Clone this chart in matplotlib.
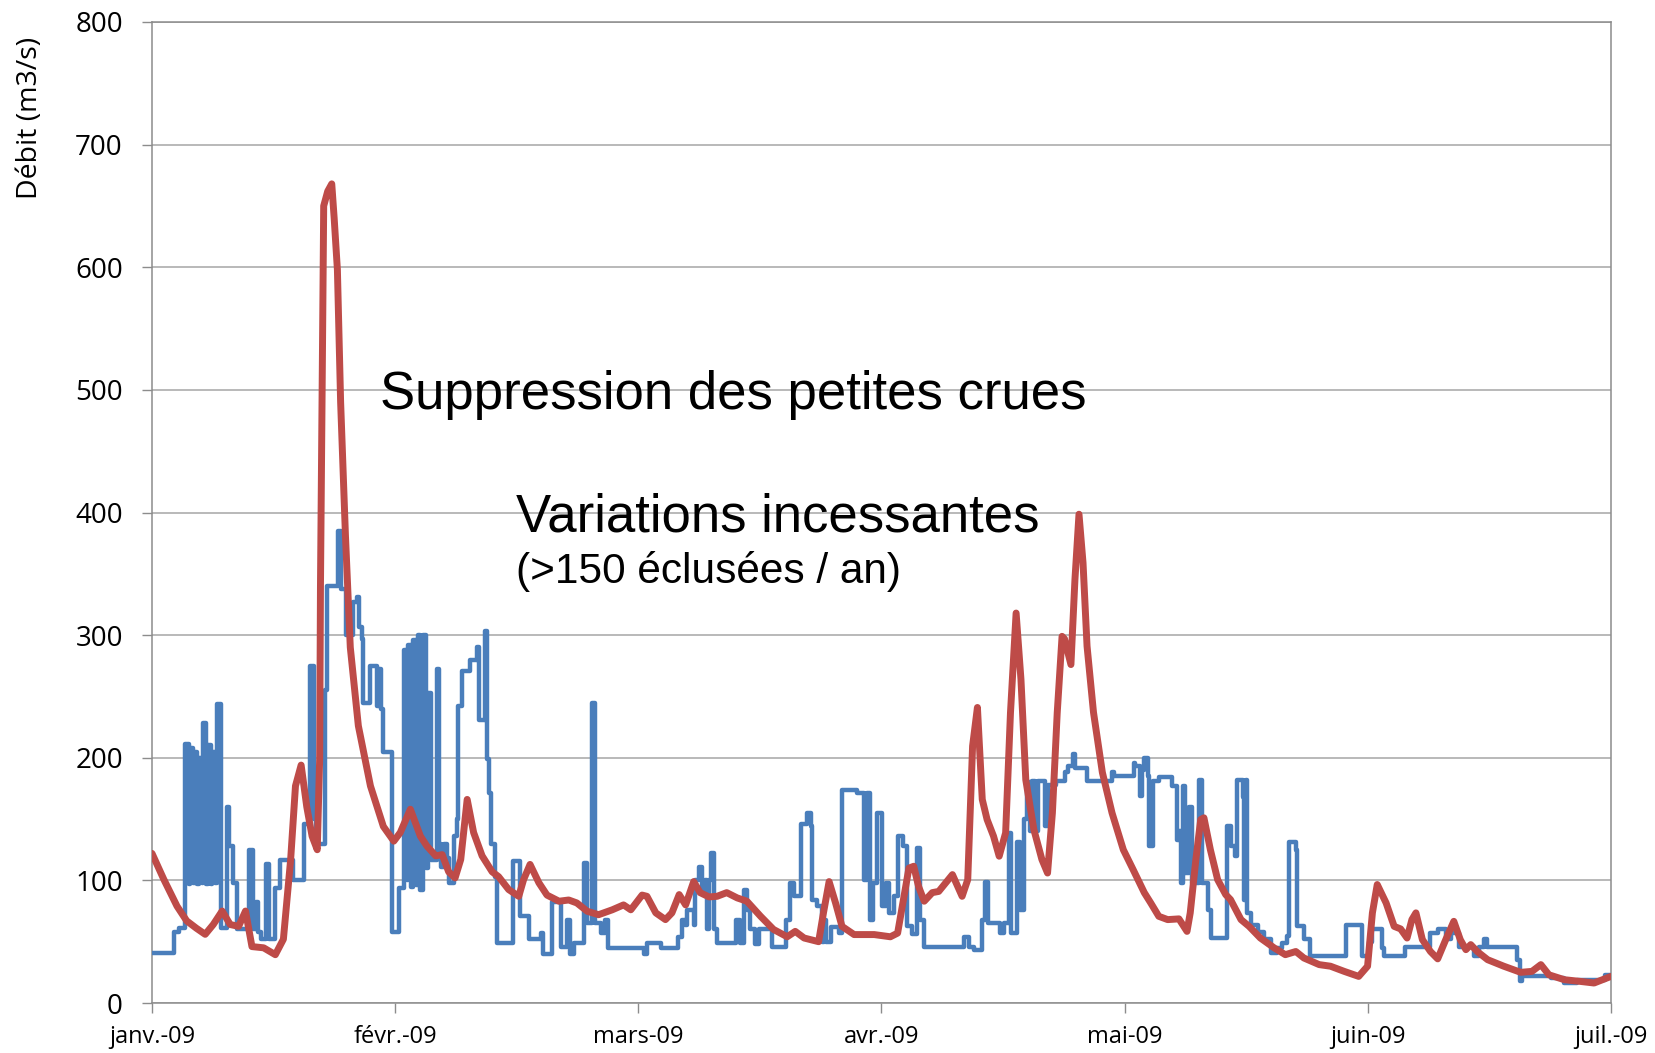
import matplotlib
matplotlib.use('Agg')
import matplotlib.pyplot as plt
import numpy as np

# ---- data (jours depuis le 1er janvier 2009, debit en m3/s) ----

# debit mesure (eclusees) : paliers (jour de debut, valeur)
blue_days = [
    0, 2.7, 3.4, 4.1, 4.55, 4.75, 5.1, 5.3, 5.6, 5.85, 6.15, 6.35, 6.75, 6.95, 7.3, 7.5, 7.85, 8.1,
    8.6, 9.3, 9.6, 10.0, 10.6, 12.0, 12.5, 12.9, 13.2, 13.5, 14.2, 14.5, 15.3, 15.9, 17.5, 18.9,
    19.6, 20.1, 20.4, 21.4, 21.7, 23.1, 23.4, 24.1, 24.9, 25.4, 25.7, 26.0, 26.2, 27.1, 27.9, 28.1,
    28.4, 28.7, 29.8, 30.7,
    31.3, 31.6, 31.8, 32.1, 32.4, 32.7, 33.0, 33.3, 33.6, 34.0, 34.3, 34.6, 35.3, 35.6, 35.9, 36.2,
    36.6, 36.9, 37.5, 37.8, 38.0, 38.4, 39.4, 40.3, 40.6, 41.3, 41.5, 41.8, 42.1, 42.5, 42.8, 44.8,
    45.6, 46.8, 48.2, 48.5, 49.6, 50.7, 51.5, 51.9, 52.4, 53.6, 54.0, 54.6, 55.0, 55.7, 56.2, 56.6,
    61.0, 61.4, 63.1, 65.3, 65.7, 66.1, 66.4, 67.2, 67.4, 67.8, 68.2, 68.6, 68.9, 69.1, 69.3, 69.7,
    70.1, 72.5, 72.9, 73.5, 73.8, 74.2, 74.8, 75.3, 76.9, 78.6, 79.2, 79.6, 80.5, 81.3, 81.7, 81.9,
    82.5, 83.1, 83.4, 83.6, 84.2, 85.2, 85.6, 87.5, 88.3, 88.7, 89.1, 89.5, 90.0, 90.6,
    91.0, 91.4, 92.0, 92.6, 93.2, 93.7, 94.3, 94.9, 95.3, 95.8, 100.7, 101.3, 102.0, 103.0, 103.3,
    103.7, 105.2, 105.7, 106.3, 106.6, 107.3, 107.7, 108.2, 108.5, 108.9, 109.2, 109.6, 109.9, 110.8,
    111.2, 112.1, 113.3, 113.6, 114.3, 114.5, 116.0, 119.1, 119.4, 121.8,
    122.0, 122.6, 122.8, 123.1, 123.5, 123.7, 124.2, 124.9, 126.6, 127.2, 127.4, 127.6, 127.9, 128.2,
    128.7, 129.0, 129.9, 130.2, 131.0, 131.4, 133.4, 133.9, 134.4, 134.6, 135.3, 135.5, 135.7, 135.9,
    136.3, 137.2, 138.0, 138.8, 139.6, 140.2, 140.8, 141.1, 141.9, 142.1, 142.9, 143.7, 148.1, 150.1,
    151.0, 151.4,
    152.6, 152.9, 155.5, 158.5, 159.5, 160.5, 161.2, 162.2, 164.0, 164.6, 165.2, 165.6, 169.3, 169.7,
    169.9, 173.5, 175.2, 176.8, 179.5, 180.2, 181.0]
blue_flow = [
    41, 58, 61, 211, 97, 208, 98, 205, 97, 200, 98, 228, 97, 210, 97, 205, 98, 244,
    61, 160, 128, 98, 60, 125, 60, 82, 58, 52, 113, 52, 94, 117, 100, 146,
    275, 150, 130, 255, 340, 385, 338, 300, 327, 331, 307, 297, 245, 275, 242, 272,
    240, 205, 58, 94,
    288, 100, 292, 95, 296, 96, 300, 92, 300, 110, 253, 117, 272, 130, 111, 130,
    118, 98, 136, 150, 242, 271, 280, 290, 231, 303, 199, 171, 130, 103, 49, 116,
    71, 52, 57, 40, 82, 46, 68, 40, 49, 114, 65, 245, 65, 57, 68, 45,
    40, 49, 45, 54, 68, 64, 76, 64, 100, 111, 90, 100, 60, 100, 122, 60,
    49, 68, 49, 92, 76, 60, 48, 60, 46, 68, 98, 87, 146, 155, 144, 84,
    79, 50, 68, 50, 62, 57, 174, 171, 100, 171, 68, 98, 155, 79,
    98, 73, 87, 136, 128, 63, 56, 126, 68, 46, 54, 46, 43, 68, 99,
    65, 57, 65, 139, 57, 131, 76, 150, 180, 140, 181, 140, 181, 144,
    178, 181, 188, 193, 203, 192, 181, 188, 185, 196,
    193, 169, 190, 200, 185, 128, 181, 184, 177, 133, 140, 98, 177, 106,
    160, 98, 182, 98, 76, 53, 144, 128, 120, 182, 168, 84, 182, 73,
    64, 58, 52, 41, 45, 49, 55, 131, 125, 63, 52, 38, 64, 38,
    50, 60,
    45, 38, 46, 57, 60, 52, 57, 46, 38, 46, 52, 46, 35, 18,
    22, 20, 16, 19, 19, 23, 22]

# debit naturel reconstitue (courbe lisse)
red_days = [
    0, 1.45, 3.1, 4.3, 5.5, 6.6, 7.6, 8.7, 9.7, 10.75, 11.6, 12.4, 13.85, 15.3, 16.3, 17.2, 17.8,
    18.5, 19.2, 19.86, 20.5, 20.8, 20.9, 21.1, 21.3, 21.8, 22.3, 22.6, 23.0, 23.4, 24.0, 24.6, 25.6,
    27.1, 28.7, 30.0, 30.8, 32.05, 33.3, 34.1, 35.2, 36.0, 36.8, 37.6, 38.3, 39.1, 39.9, 40.95,
    42.2, 43.0, 44.25, 45.5, 46.1, 46.9, 48.0, 49.0, 50.5, 51.7, 52.7, 54.0, 55.4, 57.1, 58.5,
    59.4, 60.8, 61.4, 62.5, 63.7, 64.5, 65.4, 66.2, 67.2, 68.0, 69.1, 70.1, 71.3, 72.6, 73.8,
    75.5, 77.1, 78.8, 79.8, 80.9, 82.7, 83.3, 84.0, 84.8, 85.6, 87.1, 89.6, 91.6, 92.5, 93.3,
    93.9, 94.5, 95.1, 95.8, 96.8, 97.6, 99.3, 100.5, 101.2, 101.8, 102.4, 103.0, 103.6, 104.4,
    105.1, 105.9, 106.5, 107.2, 107.8, 108.4, 109.4, 110.4, 111.1, 111.7, 112.3, 112.9, 113.2,
    114.0, 114.5, 115.0, 115.5, 116.0, 116.8, 117.9, 119.1, 120.5, 121.7, 123.1, 123.9, 124.9,
    126.0, 127.4, 128.4, 128.8, 129.5, 130.1, 130.5, 131.3, 132.2, 133.2, 133.8, 135.1, 136.1,
    137.5, 139.2, 140.6, 141.9, 142.9, 144.8, 146.2, 147.9, 149.7, 150.8, 151.4, 152.0, 153.1,
    154.1, 154.9, 155.7, 156.3, 156.8, 157.6, 158.6, 159.5, 160.5, 161.5, 162.3, 163.0, 163.6,
    164.4, 165.7, 167.7, 169.8, 171.2, 172.3, 173.3, 175.2, 177.2, 178.9, 181.0]
red_flow = [
    122, 101, 79, 67, 61, 56, 64, 75, 64, 62.5, 75, 46, 45, 39.4, 52, 117, 177,
    194, 160, 136, 125, 199, 340, 500, 650, 662, 668, 640, 598, 490, 381, 290, 226,
    177, 144, 132, 139, 158, 136, 128, 120, 121, 107, 102, 117, 166, 139, 120,
    107, 103, 92.5, 87, 100.6, 113, 98, 88, 83, 84, 81.6, 74.8, 72, 76, 80,
    76, 88, 87, 73.5, 68, 73.5, 88.4, 80, 99, 90, 86.5, 87, 90, 85.7, 83,
    70.7, 60, 54, 58.4, 53, 50, 73.5, 99, 81.6, 62.5, 55.8, 55.8, 54, 57, 87,
    110, 111.5, 95, 83, 90, 91, 104.7, 87, 100.6, 209.5, 241, 166, 149.6, 136,
    119.7, 138.8, 236.7, 318, 264, 182, 141.5, 117, 106, 155, 236.7, 299, 297,
    276, 345.6, 398.6, 359, 291, 237, 188, 155, 125, 109, 90, 81.6, 70.7,
    68, 68.6, 58.4, 73.5, 117, 149.6, 151, 125, 100.6, 88.4, 84.3, 68, 62.5,
    53, 45, 39.4, 42, 36.7, 31.3, 30, 25.8, 21.7, 30, 73.5, 96.6, 81.6,
    62.5, 60.4, 53, 68, 73.5, 51.7, 42, 36, 51.7, 66.6, 51.7, 43.5, 47.6,
    42, 35.3, 30, 25, 25.8, 31.3, 23, 19, 17.6, 16.3, 21.7]

month_labels = ['janv.-09', 'févr.-09', 'mars-09', 'avr.-09', 'mai-09', 'juin-09', 'juil.-09']
y_ticks = [0, 100, 200, 300, 400, 500, 600, 700, 800]

# ---- figure ----
plt.rcParams['font.family'] = ['Open Sans', 'DejaVu Sans']

fig = plt.figure(figsize=(16.56, 10.53), dpi=100)
ax = fig.add_axes([152 / 1656, 50 / 1053, 1459 / 1656, 981 / 1053])

ax.step(blue_days, blue_flow, where='post', color='#4a7ebb', lw=3.2, zorder=3)
ax.plot(red_days, red_flow, color='#be4b48', lw=5.0, solid_joinstyle='round',
        solid_capstyle='round', zorder=4)

ax.set_xlim(0, 181)
ax.set_ylim(0, 800)
ax.set_xticks(np.linspace(0, 181, len(month_labels)))
ax.set_xticklabels(month_labels)
ax.set_yticks(y_ticks)

ax.grid(axis='y', color='#a6a6a6', lw=1.1, zorder=0)
for sp in ax.spines.values():
    sp.set_color('#8c8c8c')
    sp.set_linewidth(1.1)

ax.tick_params(axis='y', direction='out', length=7, width=1, color='#8c8c8c',
               labelsize=20, pad=14)
ax.tick_params(axis='x', direction='out', length=7, width=1, color='#8c8c8c',
               labelsize=17, pad=9)

fig.text(29.6 / 1656, 1 - 118 / 1053, 'Débit (m3/s)', rotation=90,
         ha='center', va='center', fontsize=20.5)

# annotations
ax.text(0.1563, 0.6057, 'Suppression des petites crues', transform=ax.transAxes,
        fontsize=38, family='Liberation Sans', va='baseline')
ax.text(0.2498, 0.4811, 'Variations incessantes', transform=ax.transAxes,
        fontsize=38, family='Liberation Sans', va='baseline')
ax.text(0.2498, 0.4281, '(>150 éclusées / an)', transform=ax.transAxes,
        fontsize=30.5, family='Liberation Sans', va='baseline')

fig.savefig('out.png', dpi=100)
